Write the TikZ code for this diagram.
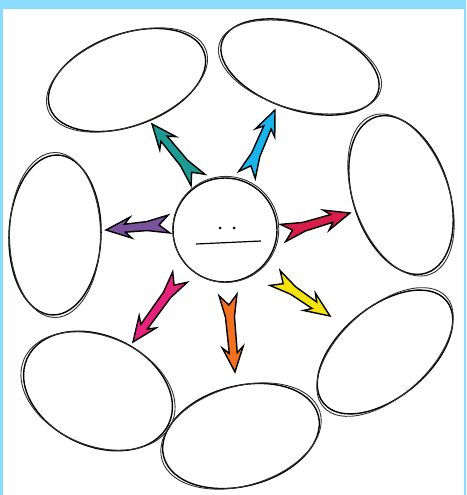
\documentclass[tikz,border=0pt]{standalone}
\usetikzlibrary{calc,shapes.geometric}
\definecolor{FrameBlue}{HTML}{8ADCFF}
\definecolor{TealInk}{HTML}{1E9A94}
\definecolor{SkyInk}{HTML}{1AB3EA}
\definecolor{CrimsonInk}{HTML}{D81E4A}
\definecolor{YellowInk}{HTML}{F4E20A}
\definecolor{OrangeInk}{HTML}{F37021}
\definecolor{PinkInk}{HTML}{E6237C}
\definecolor{PurpleInk}{HTML}{7B519D}
\tikzset{
  pen/.style={draw=black, line width=1.4pt},
  sketch/.style={draw=black!80, line width=0.9pt},
  bubble/.style={ellipse, pen, inner sep=0pt, outer sep=0pt},
  hub/.style={circle, pen, minimum size=104pt, inner sep=0pt},
  feather/.style={draw=black, line width=1.4pt, line join=miter, miter limit=6},
}
% Fletched block arrow from #2 (tail) to #3 (tip), filled with #1.
\newcommand{\featherarrow}[3]{%
  \filldraw[feather, fill=#1]
    ($(#2)!9pt!90:(#3)$) -- ($(#2)!10pt!(#3)$) -- ($(#2)!9pt!-90:(#3)$)
    -- ($(#2)!22pt!(#3)!4.5pt!-90:(#3)$) -- ($(#3)!19pt!(#2)!4pt!90:(#2)$)
    -- ($(#3)!25pt!(#2)!10.5pt!90:(#2)$) -- (#3)
    -- ($(#3)!25pt!(#2)!10.5pt!-90:(#2)$) -- ($(#3)!19pt!(#2)!4pt!-90:(#2)$)
    -- ($(#2)!22pt!(#3)!4.5pt!90:(#3)$) -- cycle;}

\begin{document}
\begin{tikzpicture}[x=1pt, y=-1pt]
  % Frame round the sheet.
  \useasboundingbox (0,0) rectangle (466,495);
  \fill[FrameBlue] (0,0) rectangle (466,495);
  \fill[white] (3,9) rectangle (464,495);

  % Seven empty bubbles round the hub.
  \node[bubble, minimum width=164pt, minimum height=92pt, rotate=20] (bubbleNW) at (127,80) {};
  \node[bubble, minimum width=164pt, minimum height=86pt, rotate=-18] (bubbleNE) at (300,67) {};
  \node[bubble, minimum width=96pt, minimum height=164pt, rotate=18] (bubbleE) at (401,195) {};
  \node[bubble, minimum width=160pt, minimum height=90pt, rotate=40] (bubbleSE) at (385,352) {};
  \node[bubble, minimum width=160pt, minimum height=100pt, rotate=15] (bubbleS) at (241,436) {};
  \node[bubble, minimum width=156pt, minimum height=110pt, rotate=-25] (bubbleSW) at (98,391) {};
  \node[bubble, minimum width=92pt, minimum height=160pt, rotate=-2] (bubbleW) at (55,235) {};

  % Second pencil stroke on each bubble.
  \draw[sketch, shift={(bubbleNW.center)}, rotate=21] (0,0) ellipse [x radius=84.5pt, y radius=45.5pt];
  \draw[sketch, shift={(bubbleNE.center)}, rotate=-16] (0,0) ellipse [x radius=84pt, y radius=42.5pt];
  \draw[sketch, shift={(bubbleE.center)}, rotate=20] (0,0) ellipse [x radius=47.5pt, y radius=84.5pt];
  \draw[sketch, shift={(bubbleSE.center)}, rotate=42] (0,0) ellipse [x radius=82.5pt, y radius=44.5pt];
  \draw[sketch, shift={(bubbleS.center)}, rotate=17] (0,0) ellipse [x radius=82.5pt, y radius=49.5pt];
  \draw[sketch, shift={(bubbleSW.center)}, rotate=-23] (0,0) ellipse [x radius=80.5pt, y radius=54.5pt];
  \draw[sketch, shift={(bubbleW.center)}, rotate=0] (0,0) ellipse [x radius=45.5pt, y radius=82.5pt];

  % Arrow ends.
  \coordinate (tealFrom) at (198,180);   \coordinate (tealTo) at (152,124);
  \coordinate (skyFrom) at (247,175);    \coordinate (skyTo) at (275,110);
  \coordinate (crimsonFrom) at (283,233); \coordinate (crimsonTo) at (350,213);
  \coordinate (yellowFrom) at (275,278); \coordinate (yellowTo) at (330,316);
  \coordinate (orangeFrom) at (228,295); \coordinate (orangeTo) at (235,372);
  \coordinate (pinkFrom) at (180,277);   \coordinate (pinkTo) at (133,342);
  \coordinate (purpleFrom) at (169,224); \coordinate (purpleTo) at (106,230);

  \featherarrow{TealInk}{tealFrom}{tealTo}
  \featherarrow{SkyInk}{skyFrom}{skyTo}
  \featherarrow{CrimsonInk}{crimsonFrom}{crimsonTo}
  \featherarrow{YellowInk}{yellowFrom}{yellowTo}
  \featherarrow{OrangeInk}{orangeFrom}{orangeTo}
  \featherarrow{PinkInk}{pinkFrom}{pinkTo}
  \featherarrow{PurpleInk}{purpleFrom}{purpleTo}

  % Hub with its face.
  \node[hub] (hub) at (225,230) {};
  \draw[sketch, shift={(hub.center)}] (0.8,-0.6) circle [radius=53pt];
  \fill ([shift={(-5,-2)}]hub.center) circle [radius=1.5pt];
  \fill ([shift={(9,-2)}]hub.center) circle [radius=1.5pt];
  \draw[pen, line width=1.2pt] ([shift={(-29,14)}]hub.center) -- ([shift={(36,11)}]hub.center);
\end{tikzpicture}
\end{document}
